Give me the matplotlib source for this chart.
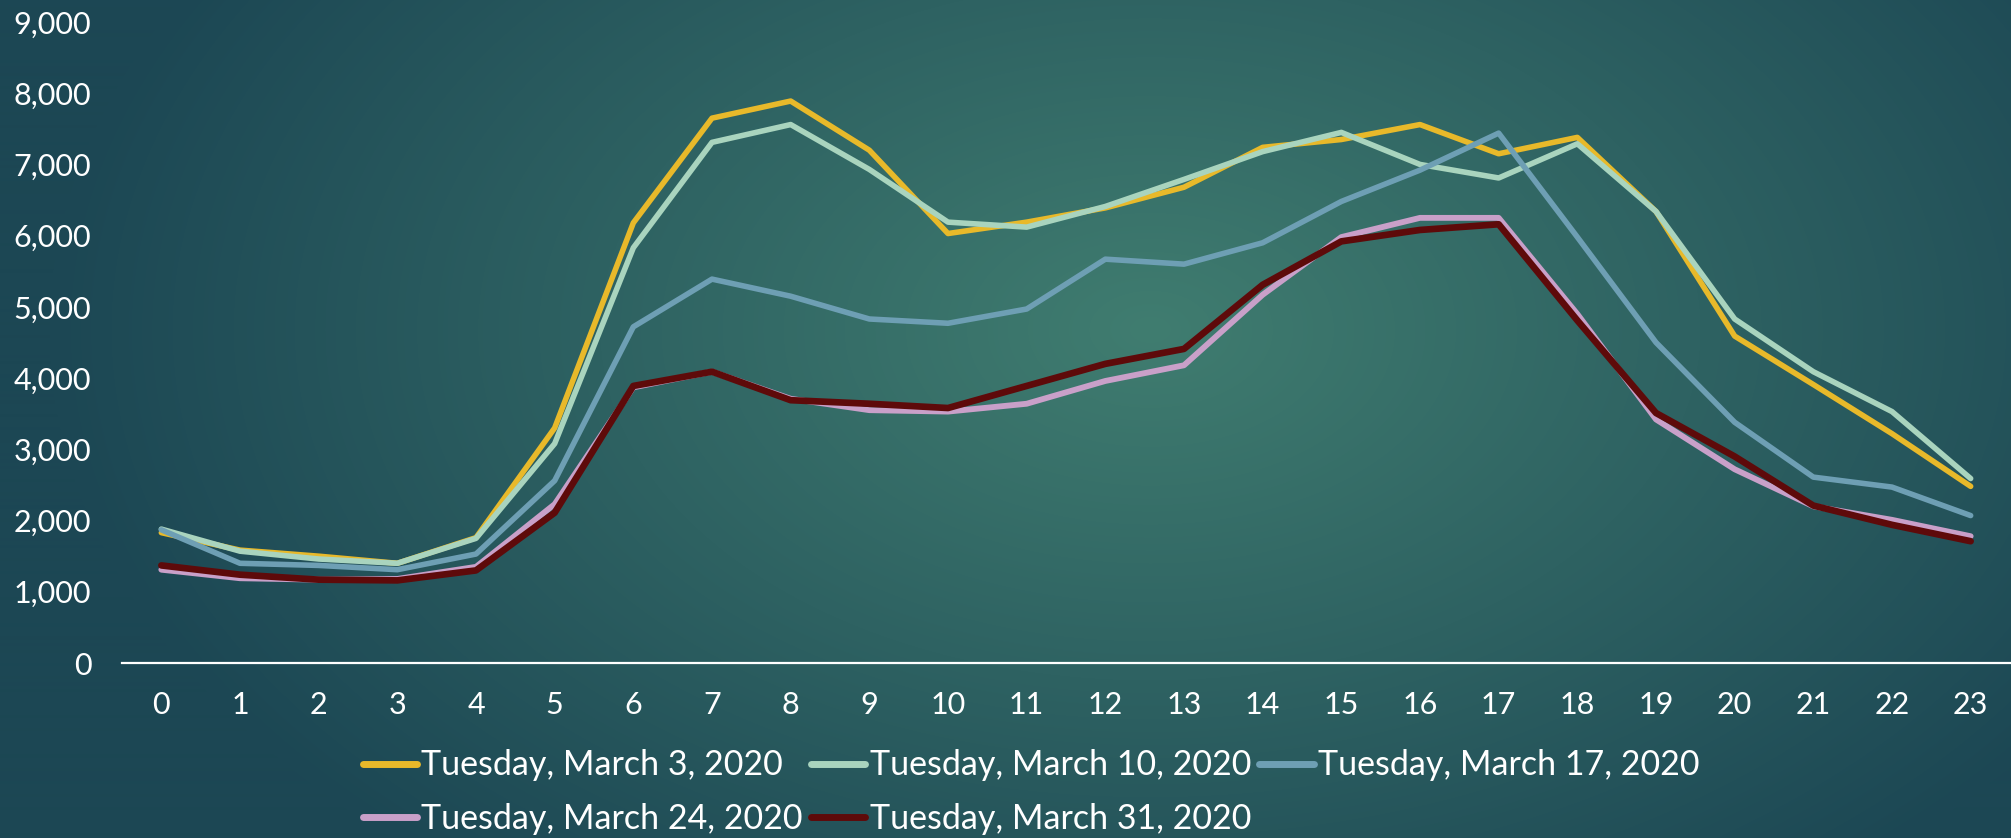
import numpy as np
import matplotlib
matplotlib.use("Agg")
import matplotlib.pyplot as plt
from matplotlib.ticker import StrMethodFormatter

# Hourly counts for five Tuesdays in March 2020
hours = list(range(24))
labels = ["Tuesday, March 3, 2020", "Tuesday, March 10, 2020",
          "Tuesday, March 17, 2020", "Tuesday, March 24, 2020",
          "Tuesday, March 31, 2020"]

mar03 = [1830, 1585, 1500, 1400, 1760, 3300, 6180, 7650, 7890, 7200, 6030, 6190,
         6390, 6680, 7240, 7350, 7560, 7150, 7380, 6340, 4590, 3910, 3220, 2480]
mar10 = [1880, 1570, 1460, 1400, 1750, 3080, 5830, 7310, 7560, 6930, 6190, 6120,
         6410, 6790, 7180, 7450, 7000, 6810, 7290, 6340, 4830, 4090, 3530, 2590]
mar17 = [1870, 1400, 1370, 1310, 1530, 2560, 4720, 5390, 5150, 4830, 4770, 4970,
         5670, 5600, 5900, 6480, 6920, 7440, 5980, 4500, 3380, 2610, 2470, 2070]
mar24 = [1310, 1190, 1170, 1180, 1350, 2230, 3870, 4090, 3710, 3550, 3530, 3640,
         3960, 4180, 5170, 5980, 6250, 6250, 4900, 3420, 2720, 2200, 2010, 1780]
mar31 = [1370, 1240, 1170, 1160, 1300, 2110, 3890, 4090, 3690, 3640, 3580, 3890,
         4200, 4410, 5310, 5920, 6080, 6160, 4810, 3510, 2900, 2210, 1940, 1710]

series = [mar03, mar10, mar17, mar24, mar31]
colors = ["#E8B92A", "#A9D4BE", "#6E9FB4", "#C9A0C9", "#5E0A0A"]
widths = [4.0, 4.0, 4.0, 4.2, 4.8]

W, H = 2011, 838
fig = plt.figure(figsize=(W / 100, H / 100), dpi=100)

# teal radial backdrop, lightest a little right of centre
yy, xx = np.mgrid[0:H, 0:W]
d = np.sqrt(((xx - 1150) / 1100.0) ** 2 + ((yy - 330) / 700.0) ** 2)
f = np.clip(1 - d, 0, 1)[..., None]
edge = np.array([28, 71, 84]) / 255
mid = np.array([64, 125, 112]) / 255
bg = edge + (mid - edge) * f
bg_ax = fig.add_axes([0, 0, 1, 1], zorder=0)
bg_ax.imshow(bg, aspect="auto", interpolation="bilinear")
bg_ax.axis("off")

ax = fig.add_axes([122 / W, 1 - 663 / H, (2010 - 122) / W, (663 - 22) / H], zorder=1)
ax.patch.set_alpha(0)

lines = []
for vals, lab, c, lw in zip(series, labels, colors, widths):
    ln, = ax.plot(hours, vals, color=c, lw=lw, label=lab,
                  solid_capstyle="round", solid_joinstyle="round")
    lines.append(ln)

ax.set_xlim(-0.5, 23.5)
ax.set_ylim(0, 9000)
ax.set_xticks(hours)
ax.set_yticks(range(0, 9001, 1000))
ax.yaxis.set_major_formatter(StrMethodFormatter("{x:,.0f}"))

for s in ["top", "right", "left"]:
    ax.spines[s].set_visible(False)
ax.spines["bottom"].set_color("white")
ax.spines["bottom"].set_linewidth(1.6)
ax.tick_params(axis="both", length=0, labelcolor="white")
ax.tick_params(axis="x", pad=20)
ax.tick_params(axis="y", pad=22)
for t in ax.get_xticklabels() + ax.get_yticklabels():
    t.set_fontfamily(["Lato", "DejaVu Sans"])
    t.set_fontsize(22)
    t.set_color("white")

# legend fills column-wise, so order entries to read across rows
order = [0, 3, 1, 4, 2]
leg = fig.legend([lines[i] for i in order], [labels[i] for i in order],
                 loc="center", bbox_to_anchor=(1031 / W, 1 - 792 / H), ncol=3,
                 frameon=False, handlelength=1.6, handletextpad=0.12,
                 columnspacing=0.25, labelspacing=0.62, borderpad=0,
                 prop={"family": ["Lato", "DejaVu Sans"], "size": 24.5})
for t in leg.get_texts():
    t.set_color("white")
for h in leg.get_lines():
    h.set_linewidth(5)
    h.set_solid_capstyle("round")

fig.savefig("out.png", dpi=100)
